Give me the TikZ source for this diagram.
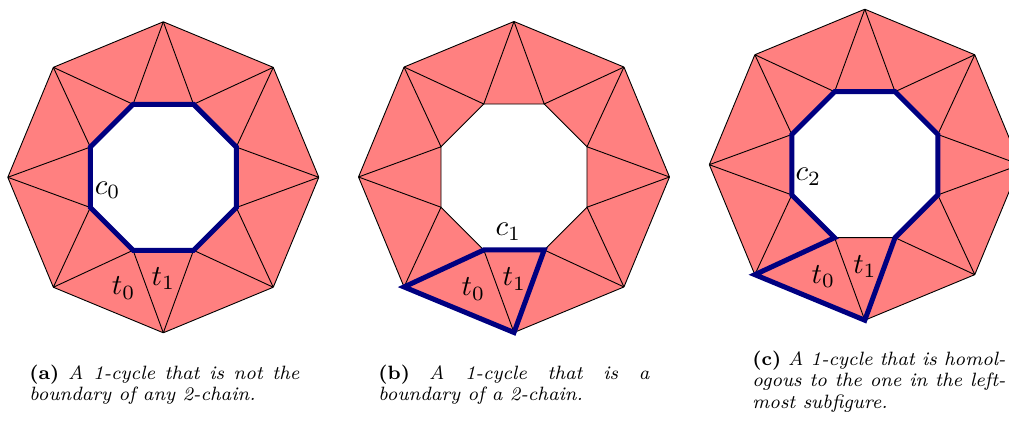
\documentclass[tikz,border=0pt]{standalone}
\usepackage{amsmath}
\usetikzlibrary{calc}
\definecolor{ringfill}{RGB}{255,128,128}
\definecolor{cyclenavy}{RGB}{0,0,128}
\newcommand{\ringpoints}[2]{\foreach \k in {0,...,7}{
  \coordinate (#1o\k) at ($(#2)+(45*\k:155.5)$);
  \coordinate (#1i\k) at ($(#2)+(45*\k+22.5:79)$);}}
\newcommand{\fillring}[1]{\fill[ringfill,even odd rule] (#1o0) \foreach \k in {1,...,7}{-- (#1o\k)} -- cycle
  (#1i0) \foreach \k in {1,...,7}{-- (#1i\k)} -- cycle;}
\newcommand{\drawring}[1]{\foreach \k in {0,...,7}{
  \pgfmathtruncatemacro\kk{mod(\k+1,8)}
  \draw[edge] (#1o\k) -- (#1o\kk) (#1i\k) -- (#1i\kk) (#1o\k) -- (#1i\k) -- (#1o\kk);}}

\begin{document}
\begin{tikzpicture}[x=1pt,y=1pt,
  edge/.style={black,line width=0.9pt},
  cyclepath/.style={cyclenavy,line width=5pt},
  lbl/.style={inner sep=0pt,font=\normalsize,scale=2.9},
  capt/.style={inner sep=0pt,anchor=base west,align=justify,font=\fontsize{8}{9.1}\selectfont,scale=2.41}]
\useasboundingbox (0,0) rectangle (1009,421);
\ringpoints{a}{163.3,243.7}
\ringpoints{b}{514,244}
\ringpoints{c}{864.8,256.3}
\fillring{a}
\drawring{a}
\draw[cyclepath] (ai0) \foreach \k in {1,...,7}{-- (ai\k)} -- cycle;
\node[lbl] (a-c0) at ($(163.3,243.7)+(-55.6,-12.7)$) {$c_0$};
\node[lbl] (a-t0) at ($(163.3,243.7)+(-39.6,-110.9)$) {$t_0$};
\node[lbl] (a-t1) at ($(163.3,243.7)+(0,-101.5)$) {$t_1$};
\fillring{b}
\drawring{b}
\draw[cyclepath] (bo5) -- (bi5) -- (bi6) -- (bo6) -- cycle;
\node[lbl] (b-c1) at ($(514,244)+(-5.7,-54.7)$) {$c_1$};
\node[lbl] (b-t0) at ($(514,244)+(-40.7,-112)$) {$t_0$};
\node[lbl] (b-t1) at ($(514,244)+(0.3,-102)$) {$t_1$};
\fillring{c}
\drawring{c}
\draw[cyclepath] (co5) -- (ci5) -- (ci4) -- (ci3) -- (ci2) -- (ci1) -- (ci0) -- (ci7) -- (ci6) -- (co6) -- cycle;
\node[lbl] (c-c2) at ($(864.8,256.3)+(-56.5,-12)$) {$c_2$};
\node[lbl] (c-t0) at ($(864.8,256.3)+(-41.5,-112)$) {$t_0$};
\node[lbl] (c-t1) at ($(864.8,256.3)+(0.2,-102)$) {$t_1$};
\node[capt,text width=112pt] (cap-a) at (29,42) {\textbf{(a)} \textit{A 1-cycle that is not the\linebreak boundary of any 2-chain.}};
\node[capt,text width=112.4pt] (cap-b) at (378,42) {\textbf{(b)} \textit{A 1-cycle that is a\linebreak boundary of a 2-chain.}};
\node[capt,text width=105pt] (cap-c) at (752,56) {\textbf{(c)} \textit{A 1-cycle that is homol-\linebreak ogous to the one in the left-\linebreak most subfigure.}};
\end{tikzpicture}
\end{document}
